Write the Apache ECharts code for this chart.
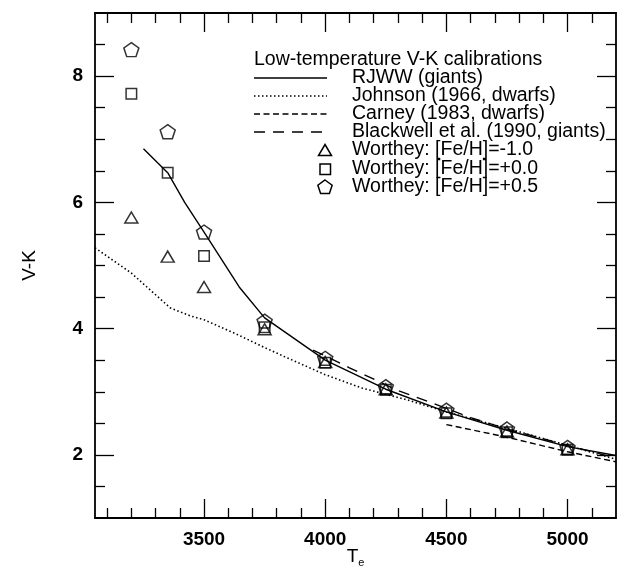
<!DOCTYPE html>
<html>
<head>
<meta charset="utf-8">
<title>Low-temperature V-K calibrations</title>
<script src="https://cdn.jsdelivr.net/npm/echarts@6/dist/echarts.min.js"></script>
<style>
  html, body { margin: 0; padding: 0; background: #fff; }
  #chart { width: 618px; height: 581px; }
</style>
</head>
<body>
<div id="chart"></div>
<script>
// ---- data ----
const legendTitle = 'Low-temperature V-K calibrations';

// calibration curves: [Teff, V-K]
const rjwwTemp   = [3250, 3350, 3420, 3500, 3645, 3750, 4000, 4250, 4500, 4750, 5000, 5200];
const rjwwVK     = [6.85, 6.47, 6.00, 5.53, 4.66, 4.17, 3.50, 3.04, 2.68, 2.39, 2.13, 1.99];

const johnsonTemp = [3050, 3200, 3360, 3445, 3500, 3630, 3750, 3830, 4000, 4150, 4340, 4500, 4750, 5000, 5200];
const johnsonVK   = [5.28, 4.88, 4.33, 4.20, 4.14, 3.92, 3.70, 3.56, 3.27, 3.06, 2.87, 2.68, 2.42, 2.15, 1.93];

const carneyTemp = [4500, 4750, 5000, 5200];
const carneyVK   = [2.48, 2.28, 2.05, 1.89];

const blackwellTemp = [3950, 4100, 4300, 4450, 4600, 4750, 5000, 5200];
const blackwellVK   = [3.66, 3.38, 3.02, 2.81, 2.59, 2.41, 2.15, 1.95];

// Worthey model colours
const wortheyTemp = [3200, 3350, 3500, 3750, 4000, 4250, 4500, 4750, 5000];
const wortheyM10  = [5.76, 5.14, 4.66, 3.99, 3.47, 3.04, 2.67, 2.37, 2.09];
const wortheyP00  = [7.72, 6.47, 5.15, 4.02, 3.46, 3.03, 2.66, 2.36, 2.08];
const wortheyP05  = [8.42, 7.12, 5.53, 4.12, 3.53, 3.08, 2.71, 2.41, 2.12];

const lineNames   = ['RJWW (giants)', 'Johnson (1966, dwarfs)', 'Carney (1983, dwarfs)', 'Blackwell et al. (1990, giants)'];
const markerNames = ['Worthey: [Fe/H]=-1.0', 'Worthey: [Fe/H]=+0.0', 'Worthey: [Fe/H]=+0.5'];

// axis ticks
const xMajorTicks = [3500, 4000, 4500, 5000];
const xMinorTicks = [3100, 3200, 3300, 3400, 3600, 3700, 3800, 3900, 4100, 4200, 4300, 4400, 4600, 4700, 4800, 4900, 5100];
const yMajorTicks = [2, 4, 6, 8];
const yMinorTicks = [1.5, 2.5, 3, 3.5, 4.5, 5, 5.5, 6.5, 7, 7.5, 8.5];
const xRange = [3050, 5200];
const yRange = [1, 9];

// ---- styles ----
const FONT = 'Liberation Sans, Arial, Helvetica, sans-serif';
const LEGEND_FONT = '19.5px ' + FONT;
const lineStyles = [
  { type: 'solid', width: 1.4 },
  { type: [1.5, 2.5], width: 1.6 },
  { type: [6, 3.5], width: 1.4 },
  { type: [11, 8], width: 1.4 }
];
const pentagon = 'path://M0,-1L0.951,-0.309L0.588,0.809L-0.588,0.809L-0.951,-0.309Z';
const markerSymbols = [
  { symbol: 'triangle', size: [13, 11] },
  { symbol: 'rect', size: [10.5, 10.5] },
  { symbol: pentagon, size: [15, 14] }
];

const zip = (a, b) => a.map((v, i) => [v, b[i]]);
const lineData = [zip(rjwwTemp, rjwwVK), zip(johnsonTemp, johnsonVK), zip(carneyTemp, carneyVK), zip(blackwellTemp, blackwellVK)];
const markerData = [zip(wortheyTemp, wortheyM10), zip(wortheyTemp, wortheyP00), zip(wortheyTemp, wortheyP05)];

// ---- axes: frame with inward ticks on all four sides ----
function makeAxis(dim, position, ticks, len, withLine, extra) {
  const range = dim === 'x' ? xRange : yRange;
  return Object.assign({
    type: 'value', position: position, min: range[0], max: range[1],
    axisLine: { show: withLine, onZero: false, lineStyle: { color: '#000', width: 1.8 } },
    axisTick: { show: true, inside: true, length: len, customValues: ticks, lineStyle: { color: '#000', width: 1.3 } },
    axisLabel: { show: false },
    splitLine: { show: false }
  }, extra || {});
}

const axisLabelStyle = {
  show: true, color: '#000', fontFamily: FONT, fontSize: 19, fontWeight: 'bold', margin: 12,
  formatter: v => String(v)
};

const xAxes = [
  makeAxis('x', 'bottom', xMajorTicks, 19, true, {
    axisLabel: Object.assign({ customValues: xMajorTicks }, axisLabelStyle),
    name: 'T{sub|e}', nameLocation: 'middle', nameGap: 27, nameMoveOverlap: false,
    nameTextStyle: { color: '#000', fontFamily: FONT, fontSize: 19, rich: { sub: { fontFamily: FONT, fontSize: 11, color: '#000', padding: [12, 0, 0, 0] } } }
  }),
  makeAxis('x', 'bottom', xMinorTicks, 10, false),
  makeAxis('x', 'top', xMajorTicks, 19, true),
  makeAxis('x', 'top', xMinorTicks, 10, false)
];
const yAxes = [
  makeAxis('y', 'left', yMajorTicks, 19, true, {
    axisLabel: Object.assign({ customValues: yMajorTicks }, axisLabelStyle),
    name: 'V-K', nameLocation: 'middle', nameGap: 56, nameRotate: 90, nameMoveOverlap: false,
    nameTextStyle: { color: '#000', fontFamily: FONT, fontSize: 19 }
  }),
  makeAxis('y', 'left', yMinorTicks, 10, false),
  makeAxis('y', 'right', yMajorTicks, 19, true),
  makeAxis('y', 'right', yMinorTicks, 10, false)
];

// ---- series ----
const series = [];
lineNames.forEach((name, i) => {
  series.push({
    name: name, type: 'line', data: lineData[i], showSymbol: false, symbol: 'none',
    lineStyle: Object.assign({ color: '#000', cap: 'butt' }, lineStyles[i]),
    silent: true, z: 2, animation: false
  });
});
markerNames.forEach((name, i) => {
  series.push({
    name: name, type: 'scatter', data: markerData[i],
    symbol: markerSymbols[i].symbol, symbolSize: markerSymbols[i].size,
    itemStyle: { color: 'rgba(255,255,255,0)', borderColor: '#000', borderWidth: 1.5 },
    silent: true, z: 3, animation: false
  });
});

// ---- legend block drawn as graphics ----
const legendLeft = 254, sampleEnd = 327, textLeft = 352;
const graphics = [{
  type: 'text', x: legendLeft, y: 60,
  style: { text: legendTitle, fill: '#000', font: LEGEND_FONT, textVerticalAlign: 'middle' }
}];
const rowY = [78, 96, 114, 132, 150, 169, 187];
lineNames.forEach((name, i) => {
  const y = rowY[i];
  graphics.push({
    type: 'line',
    shape: { x1: legendLeft, y1: y, x2: sampleEnd, y2: y },
    style: { stroke: '#000', lineWidth: lineStyles[i].width, lineDash: lineStyles[i].type === 'solid' ? null : lineStyles[i].type }
  });
  graphics.push({
    type: 'text', x: textLeft, y: y,
    style: { text: name, fill: '#000', font: LEGEND_FONT, textVerticalAlign: 'middle' }
  });
});
const pentagonPts = [[0, -1], [0.951, -0.309], [0.588, 0.809], [-0.588, 0.809], [-0.951, -0.309]];
markerNames.forEach((name, i) => {
  const y = rowY[4 + i], cx = 325;
  const st = { fill: 'none', stroke: '#000', lineWidth: 1.5 };
  let icon;
  if (i === 0) icon = { type: 'polygon', shape: { points: [[cx, y - 5.5], [cx + 6.5, y + 5.5], [cx - 6.5, y + 5.5]] }, style: st };
  else if (i === 1) icon = { type: 'rect', shape: { x: cx - 5, y: y - 5, width: 10.5, height: 10.5 }, style: st };
  else icon = { type: 'polygon', shape: { points: pentagonPts.map(p => [cx + p[0] * 7.5, y + 0.5 + p[1] * 7.5]) }, style: st };
  graphics.push(icon);
  graphics.push({
    type: 'text', x: textLeft, y: y,
    style: { text: name, fill: '#000', font: LEGEND_FONT, textVerticalAlign: 'middle' }
  });
});

const chart = echarts.init(document.getElementById('chart'), null, { renderer: 'canvas' });
chart.setOption({
  backgroundColor: '#fff',
  animation: false,
  grid: { left: 95, right: 2, top: 13, bottom: 63, containLabel: false },
  xAxis: xAxes,
  yAxis: yAxes,
  series: series,
  graphic: graphics
});
</script>
</body>
</html>
